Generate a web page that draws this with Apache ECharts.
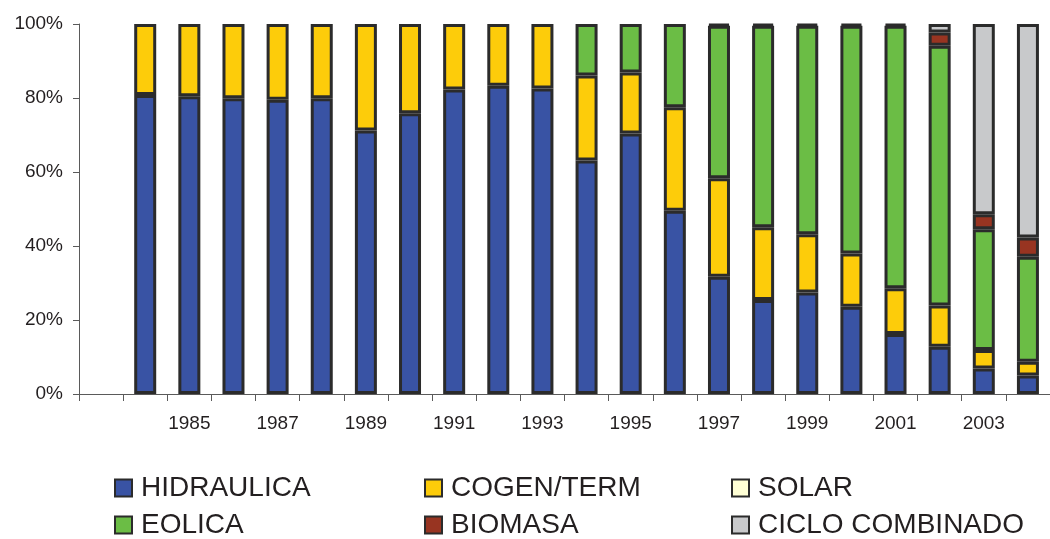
<!DOCTYPE html>
<html>
<head>
<meta charset="utf-8">
<script src="https://cdn.jsdelivr.net/npm/echarts@6/dist/echarts.min.js"></script>
<style>
html,body{margin:0;padding:0;background:#fff;}
#chart{width:1050px;height:539px;}
</style>
</head>
<body>
<div id="chart"></div>
<script>
// Categories (first slot is empty in the original chart)
const years = ['', '1984','1985','1986','1987','1988','1989','1990','1991','1992','1993','1994','1995','1996','1997','1998','1999','2000','2001','2002','2003','2004'];
const yTicks = [0, 20, 40, 60, 80, 100];

// Shares in %; null = no visible segment
const hidraulica = [null, 80.8, 80.5, 79.9, 79.5, 79.9, 71.2, 75.9, 82.3, 83.3, 82.6, 63.1, 70.4, 49.5, 31.7, 25.4, 27.4, 23.6, 16.2, 12.8, 6.9, 5.0];
const cogenTerm  = [null, 19.2, 19.5, 20.1, 20.5, 20.1, 28.8, 24.1, 17.7, 16.7, 17.4, 23.0, 16.5, 28.0, 26.6, 19.7, 15.8, 14.4, 12.4, 11.1, 5.0, 3.7];
const solar      = [null, null, null, null, null, null, null, null, null, null, null, null, null, null, null, null, null, null, null, null, null, null];
const eolica     = [null, null, null, null, null, null, null, null, null, null, null, 13.9, 13.1, 22.5, 41.2, 54.4, 56.3, 61.5, 70.9, 70.2, 32.6, 28.4];
const biomasa    = [null, null, null, null, null, null, null, null, null, null, null, null, null, null, 0.5, 0.5, 0.5, 0.5, 0.5, 3.6, 4.1, 5.2];
const cicloComb  = [null, null, null, null, null, null, null, null, null, null, null, null, null, null, null, null, null, null, null, 2.3, 51.4, 57.7];

const seriesNames = ['HIDRAULICA','COGEN/TERM','SOLAR','EOLICA','BIOMASA','CICLO COMBINADO'];
const seriesData = [hidraulica, cogenTerm, solar, eolica, biomasa, cicloComb];
const colors = ['#3953A4','#FDCC0A','#FFFFD5','#6BBD45','#983421','#C8C9CB'];

const textColor = '#231F20';
const font = 'Liberation Sans, Arial, sans-serif';

const chart = echarts.init(document.getElementById('chart'), null, {renderer: 'canvas'});

const legendPos = [
  {left: 114, top: 474}, {left: 424, top: 474}, {left: 731, top: 474},
  {left: 114, top: 511}, {left: 424, top: 511}, {left: 731, top: 511}
];
const legendOrder = ['HIDRAULICA','COGEN/TERM','SOLAR','EOLICA','BIOMASA','CICLO COMBINADO'];

const option = {
  animation: false,
  backgroundColor: '#fff',
  color: colors,
  grid: {left: 79, top: 24, right: -7, bottom: 145, containLabel: false},
  legend: legendOrder.map((n, i) => ({
    data: [n],
    left: legendPos[i].left,
    top: legendPos[i].top,
    padding: 0,
    itemWidth: 17,
    itemHeight: 17,
    icon: 'rect',
    selectedMode: false,
    itemStyle: {borderWidth: 2, borderColor: '#2B2B2B'},
    textStyle: {color: textColor, fontSize: 28, fontFamily: font, padding: [0,0,0,4]}
  })),
  xAxis: {
    type: 'category',
    data: years,
    axisLine: {show: true, lineStyle: {color: '#5A5A5A', width: 1}},
    axisTick: {show: true, interval: 0, length: 7, lineStyle: {color: '#5A5A5A'}},
    axisLabel: {interval: 1, color: textColor, fontSize: 19, fontFamily: font, margin: 20},
    splitLine: {show: false}
  },
  yAxis: {
    type: 'value',
    min: 0, max: 100, interval: 20,
    axisLine: {show: true, lineStyle: {color: '#5A5A5A', width: 1}},
    axisTick: {show: true, length: 6, lineStyle: {color: '#5A5A5A'}},
    axisLabel: {color: textColor, fontSize: 19, fontFamily: font, margin: 16,
      formatter: v => yTicks.includes(v) ? v + '%' : ''},
    splitLine: {show: false}
  },
  series: seriesNames.map((n, i) => ({
    name: n,
    type: 'bar',
    stack: 'total',
    barWidth: 22,
    data: seriesData[i],
    itemStyle: {color: colors[i], borderColor: '#2B2B2B', borderWidth: 3}
  }))
};
chart.setOption(option);
</script>
</body>
</html>
